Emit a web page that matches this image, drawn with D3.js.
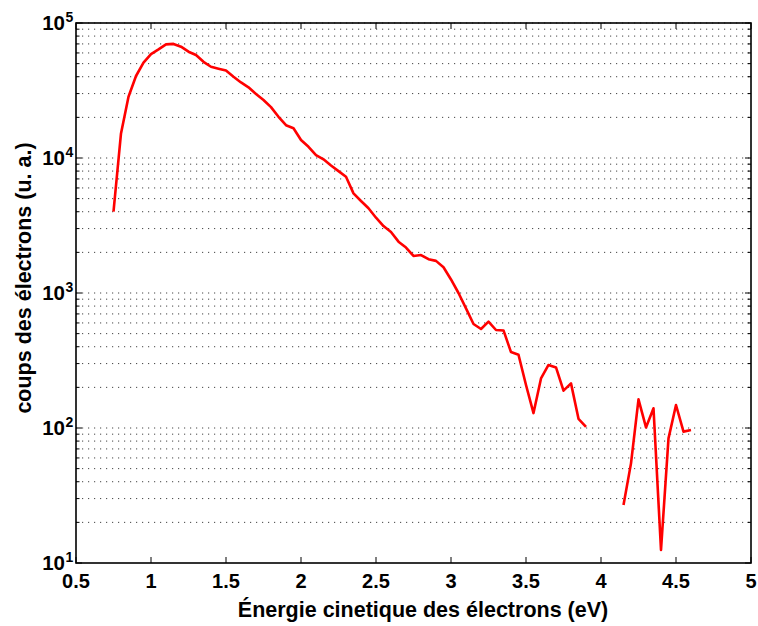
<!DOCTYPE html>
<html>
<head>
<meta charset="utf-8">
<script src="https://cdn.jsdelivr.net/npm/d3@7"></script>
<style>
  html, body { margin: 0; padding: 0; background: #fff; }
  svg { display: block; }
  text { font-family: "Liberation Sans", Arial, Helvetica, sans-serif; font-weight: bold; fill: #000; }
</style>
</head>
<body>
<svg id="chart" width="758" height="626"></svg>
<script>
// ---- data ----
const energy = [0.75, 0.8, 0.85, 0.9, 0.95, 1.0, 1.05, 1.1, 1.15, 1.2, 1.25, 1.3, 1.35, 1.4, 1.45,
  1.5, 1.55, 1.6, 1.65, 1.7, 1.75, 1.8, 1.85, 1.9, 1.95, 2.0, 2.05, 2.1, 2.15, 2.2, 2.25, 2.3,
  2.35, 2.4, 2.45, 2.5, 2.55, 2.6, 2.65, 2.7, 2.75, 2.8, 2.85, 2.9, 2.95, 3.0, 3.05, 3.1, 3.15,
  3.2, 3.25, 3.3, 3.35, 3.4, 3.45, 3.5, 3.55, 3.6, 3.65, 3.7, 3.75, 3.8, 3.85, 3.9,
  3.95, 4.0, 4.05, 4.1,
  4.15, 4.2, 4.25, 4.3, 4.35, 4.4, 4.45, 4.5, 4.55, 4.6];
const counts = [4000, 15200, 28400, 40500, 50800, 58900, 63800, 69500, 70000, 66800, 61300, 57900, 51600, 47400, 45900,
  44400, 40000, 36300, 33400, 29800, 26900, 23800, 20200, 17500, 16600, 13600, 12100, 10500, 9780, 8800, 8000, 7270,
  5470, 4800, 4240, 3610, 3130, 2830, 2400, 2170, 1880, 1910, 1780, 1730, 1550, 1260, 1000, 770, 589,
  541, 613, 532, 528, 365, 349, 208, 129, 233, 293, 281, 189, 214, 117, 102,
  null, null, null, null,
  26.9, 54.7, 163, 101, 140, 12.5, 83.8, 148, 94, 96.7];
const xTicks = [0.5, 1, 1.5, 2, 2.5, 3, 3.5, 4, 4.5, 5];
const xTickLabels = ["0.5", "1", "1.5", "2", "2.5", "3", "3.5", "4", "4.5", "5"];
const yExponents = [1, 2, 3, 4, 5];
const xLabel = "Énergie cinetique des électrons (eV)";
const yLabel = "coups des électrons (u. a.)";

// ---- layout ----
const L = 76, R = 751, T = 23, B = 563;
const svg = d3.select("#chart");
const x = d3.scaleLinear().domain([0.5, 5]).range([L, R]);
const y = d3.scaleLog().domain([10, 100000]).range([B, T]);

// grid values (1..9 x each decade)
const gridVals = [];
for (let e = 1; e <= 4; e++) for (let m = 1; m <= 9; m++) gridVals.push(m * Math.pow(10, e));
gridVals.push(100000);

// dotted horizontal grid
svg.append("g").selectAll("line").data(gridVals.filter(v => v > 10)).join("line")
  .attr("x1", L).attr("x2", R)
  .attr("y1", d => y(d)).attr("y2", d => y(d))
  .attr("stroke", "#444").attr("stroke-width", 1)
  .attr("stroke-dasharray", "1.2,4.8");

// ticks: left & right (minor + major), bottom & top (major)
const tg = svg.append("g").attr("stroke", "#000").attr("stroke-width", 1);
gridVals.forEach(v => {
  const major = Math.abs(Math.log10(v) - Math.round(Math.log10(v))) < 1e-9;
  const len = major ? 6 : 3.5;
  tg.append("line").attr("x1", L).attr("x2", L + len).attr("y1", y(v)).attr("y2", y(v));
  tg.append("line").attr("x1", R).attr("x2", R - len).attr("y1", y(v)).attr("y2", y(v));
});
xTicks.forEach(t => {
  tg.append("line").attr("x1", x(t)).attr("x2", x(t)).attr("y1", B).attr("y2", B - 6);
  tg.append("line").attr("x1", x(t)).attr("x2", x(t)).attr("y1", T).attr("y2", T + 6);
});

// data line
const line = d3.line()
  .defined((d, i) => counts[i] != null)
  .x((d, i) => x(energy[i]))
  .y((d, i) => y(counts[i]));
svg.append("path").datum(energy)
  .attr("d", line)
  .attr("fill", "none")
  .attr("stroke", "#ff0000")
  .attr("stroke-width", 2.6)
  .attr("stroke-linejoin", "round");

// box
svg.append("rect").attr("x", L).attr("y", T).attr("width", R - L).attr("height", B - T)
  .attr("fill", "none").attr("stroke", "#000").attr("stroke-width", 1.6);

// x tick labels
svg.append("g").selectAll("text").data(xTicks).join("text")
  .attr("x", d => x(d)).attr("y", 588)
  .attr("text-anchor", "middle").attr("font-size", 20)
  .text((d, i) => xTickLabels[i]);

// y tick labels 10^n
const yl = svg.append("g");
yExponents.forEach(e => {
  const yy = y(Math.pow(10, e));
  yl.append("text").attr("x", 65).attr("y", yy + 7)
    .attr("text-anchor", "end").attr("font-size", 20.5).text("10");
  yl.append("text").attr("x", 65.5).attr("y", yy - 1)
    .attr("text-anchor", "start").attr("font-size", 14).text(String(e));
});

// axis labels
svg.append("text").attr("x", 423).attr("y", 617)
  .attr("text-anchor", "middle").attr("font-size", 21.5).text(xLabel);
svg.append("text").attr("transform", "translate(31,278) rotate(-90)")
  .attr("text-anchor", "middle").attr("font-size", 21.5).text(yLabel);
</script>
</body>
</html>
